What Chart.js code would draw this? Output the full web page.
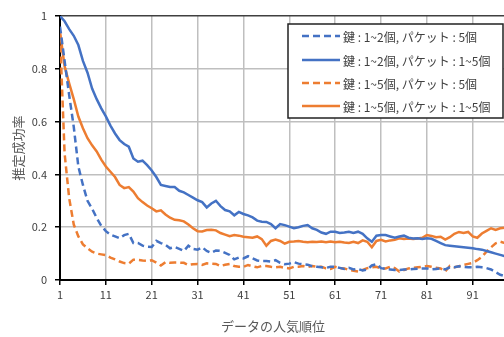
<!DOCTYPE html>
<html>
<head>
<meta charset="utf-8">
<script src="https://cdn.jsdelivr.net/npm/chart.js@4.4.1/dist/chart.umd.min.js"></script>
<style>
  html, body { margin: 0; padding: 0; background: #fff; overflow: hidden; }
  #wrap { position: relative; width: 520px; height: 337px; }
</style>
</head>
<body>
<div id="wrap"><canvas id="chart"></canvas></div>
<script>
// popularity rank of the data (x axis)
const ranks = [
  1, 2, 3, 4, 5, 6, 7, 8, 9, 10, 11, 12, 13, 14, 15, 16, 17, 18, 19, 20,
  21, 22, 23, 24, 25, 26, 27, 28, 29, 30, 31, 32, 33, 34, 35, 36, 37, 38, 39, 40,
  41, 42, 43, 44, 45, 46, 47, 48, 49, 50, 51, 52, 53, 54, 55, 56, 57, 58, 59, 60,
  61, 62, 63, 64, 65, 66, 67, 68, 69, 70, 71, 72, 73, 74, 75, 76, 77, 78, 79, 80,
  81, 82, 83, 84, 85, 86, 87, 88, 89, 90, 91, 92, 93, 94, 95, 96, 97, 98, 99, 100
];
const xTicks = [1, 11, 21, 31, 41, 51, 61, 71, 81, 91];

// key 1~2, packet 5
const key12Pkt5 = [
  0.96, 0.83, 0.70, 0.58, 0.43, 0.36, 0.30, 0.27, 0.235, 0.205,
  0.185, 0.172, 0.165, 0.158, 0.17, 0.175, 0.14, 0.14, 0.13, 0.126,
  0.125, 0.148, 0.14, 0.133, 0.12, 0.125, 0.118, 0.11, 0.13, 0.118,
  0.115, 0.124, 0.11, 0.103, 0.112, 0.11, 0.103, 0.095, 0.078, 0.085,
  0.082, 0.09, 0.082, 0.074, 0.072, 0.072, 0.07, 0.075, 0.065, 0.06,
  0.062, 0.068, 0.062, 0.06, 0.058, 0.052, 0.05, 0.048, 0.046, 0.05,
  0.05, 0.046, 0.042, 0.046, 0.04, 0.042, 0.036, 0.04, 0.055, 0.06,
  0.045, 0.042, 0.04, 0.038, 0.038, 0.04, 0.04, 0.042, 0.043, 0.044,
  0.044, 0.04, 0.042, 0.044, 0.04, 0.048, 0.048, 0.052, 0.05, 0.048,
  0.048, 0.05, 0.048, 0.045, 0.04, 0.03, 0.02, 0.015, 0.012, 0.01
];
// key 1~2, packet 1~5
const key12Pkt15 = [
  1.0, 0.98, 0.95, 0.925, 0.89, 0.83, 0.785, 0.725, 0.685, 0.65,
  0.62, 0.585, 0.555, 0.53, 0.515, 0.505, 0.46, 0.448, 0.452, 0.435,
  0.415, 0.39, 0.36, 0.356, 0.352, 0.352, 0.338, 0.332, 0.322, 0.312,
  0.302, 0.295, 0.275, 0.29, 0.3, 0.28, 0.265, 0.26, 0.245, 0.258,
  0.25, 0.245, 0.237, 0.225, 0.221, 0.22, 0.212, 0.196, 0.212, 0.208,
  0.202, 0.196, 0.2, 0.205, 0.208, 0.196, 0.19, 0.18, 0.175, 0.183,
  0.183, 0.178, 0.18, 0.183, 0.178, 0.183, 0.175, 0.158, 0.145, 0.168,
  0.17, 0.17, 0.165, 0.16, 0.165, 0.168, 0.16, 0.157, 0.158, 0.155,
  0.158, 0.156, 0.148, 0.14, 0.132, 0.13, 0.128, 0.126, 0.124, 0.122,
  0.12, 0.117, 0.115, 0.11, 0.105, 0.1, 0.095, 0.09, 0.092, 0.09
];
// key 1~5, packet 5
const key15Pkt5 = [
  0.93, 0.48, 0.31, 0.21, 0.165, 0.135, 0.12, 0.107, 0.1, 0.097,
  0.094, 0.085, 0.078, 0.07, 0.064, 0.062, 0.077, 0.076, 0.074, 0.073,
  0.075, 0.066, 0.055, 0.068, 0.065, 0.066, 0.066, 0.065, 0.057, 0.06,
  0.061, 0.057, 0.063, 0.062, 0.061, 0.053, 0.058, 0.061, 0.053, 0.05,
  0.05, 0.057, 0.052, 0.048, 0.053, 0.053, 0.05, 0.048, 0.05, 0.046,
  0.044, 0.05, 0.05, 0.053, 0.05, 0.053, 0.05, 0.05, 0.044, 0.042,
  0.05, 0.045, 0.044, 0.038, 0.035, 0.032, 0.038, 0.045, 0.048, 0.05,
  0.044, 0.044, 0.05, 0.045, 0.032, 0.038, 0.044, 0.046, 0.048, 0.05,
  0.053, 0.05, 0.046, 0.044, 0.032, 0.053, 0.048, 0.052, 0.057, 0.061,
  0.065, 0.075, 0.088, 0.107, 0.124, 0.139, 0.145, 0.14, 0.13, 0.12
];
// key 1~5, packet 1~5
const key15Pkt15 = [
  0.94, 0.81, 0.745, 0.685, 0.619, 0.575, 0.537, 0.51, 0.487, 0.456,
  0.43, 0.41, 0.39, 0.36, 0.348, 0.352, 0.335, 0.31, 0.295, 0.282,
  0.272, 0.26, 0.264, 0.248, 0.236, 0.228, 0.226, 0.222, 0.21, 0.196,
  0.185, 0.184, 0.189, 0.19, 0.188, 0.178, 0.172, 0.166, 0.17, 0.168,
  0.164, 0.162, 0.16, 0.165, 0.155, 0.13, 0.148, 0.153, 0.148, 0.138,
  0.145, 0.146, 0.148, 0.145, 0.143, 0.145, 0.144, 0.146, 0.143, 0.146,
  0.143, 0.145, 0.142, 0.14, 0.145, 0.14, 0.15, 0.145, 0.124, 0.148,
  0.152, 0.146, 0.15, 0.152, 0.158, 0.155, 0.157, 0.155, 0.157, 0.16,
  0.17, 0.167, 0.162, 0.164, 0.153, 0.162, 0.175, 0.182, 0.178, 0.182,
  0.165, 0.16, 0.176, 0.186, 0.196, 0.19, 0.196, 0.198, 0.198, 0.198
];

const seriesLabels = [
  '鍵 : 1~2個, パケット : 5個',
  '鍵 : 1~2個, パケット : 1~5個',
  '鍵 : 1~5個, パケット : 5個',
  '鍵 : 1~5個, パケット : 1~5個'
];
const xTitle = 'データの人気順位';
const yTitle = '推定成功率';

const BLUE = '#4472C4';
const ORANGE = '#ED7D31';
const FONT = '"Noto Sans CJK JP", "Noto Sans", sans-serif';

const toPoints = (values) => values.map((v, i) => ({ x: ranks[i], y: v }));

const makeSet = (label, values, color, dashed) => ({
  label,
  data: toPoints(values),
  borderColor: color,
  backgroundColor: color,
  borderWidth: 2.5,
  borderDash: dashed ? [7, 4] : [],
  pointRadius: 0,
  tension: 0,
  fill: false
});

// axis titles and boxed legend inside the plot
const decorations = {
  id: 'decorations',
  afterDraw(chart) {
    const { ctx, chartArea } = chart;
    ctx.save();
    ctx.fillStyle = '#595959';
    ctx.font = '13px ' + FONT;
    ctx.textAlign = 'center';
    ctx.textBaseline = 'middle';
    ctx.fillText(xTitle, 273, 326);
    ctx.save();
    ctx.translate(18, (chartArea.top + chartArea.bottom) / 2);
    ctx.rotate(-Math.PI / 2);
    ctx.fillText(yTitle, 0, 0);
    ctx.restore();

    // legend box
    const bx = 288, by = 24, bw = 215, bh = 94;
    ctx.fillStyle = '#fff';
    ctx.fillRect(bx, by, bw, bh);
    ctx.strokeStyle = '#222';
    ctx.lineWidth = 1.5;
    ctx.strokeRect(bx, by, bw, bh);

    const rows = [36, 60, 83, 106];
    ctx.font = '12px ' + FONT;
    ctx.textAlign = 'left';
    chart.data.datasets.forEach((ds, i) => {
      ctx.beginPath();
      ctx.setLineDash(ds.borderDash);
      ctx.strokeStyle = ds.borderColor;
      ctx.lineWidth = ds.borderWidth;
      ctx.moveTo(302, rows[i]);
      ctx.lineTo(340, rows[i]);
      ctx.stroke();
      ctx.setLineDash([]);
      ctx.fillStyle = '#404040';
      ctx.fillText(ds.label, 343, rows[i] + 1);
    });
    ctx.restore();
  }
};

new Chart(document.getElementById('chart'), {
  type: 'line',
  data: {
    datasets: [
      makeSet(seriesLabels[0], key12Pkt5, BLUE, true),
      makeSet(seriesLabels[1], key12Pkt15, BLUE, false),
      makeSet(seriesLabels[2], key15Pkt5, ORANGE, true),
      makeSet(seriesLabels[3], key15Pkt15, ORANGE, false)
    ]
  },
  options: {
    responsive: true,
    maintainAspectRatio: false,
    animation: false,
    layout: { padding: { top: 16, right: 6, bottom: 0, left: 0 } },
    plugins: {
      legend: { display: false },
      tooltip: { enabled: false }
    },
    scales: {
      x: {
        type: 'linear',
        min: 1,
        max: 100,
        afterBuildTicks: (scale) => { scale.ticks = xTicks.map((v) => ({ value: v })); },
        afterFit: (scale) => { scale.height = 57; },
        grid: { color: '#BFBFBF', lineWidth: 1.5, tickColor: '#000', tickLength: 5 },
        border: { color: '#000', width: 2 },
        ticks: { color: '#404040', font: { family: FONT, size: 11 }, padding: 3, maxRotation: 0 }
      },
      y: {
        min: 0,
        max: 1,
        afterFit: (scale) => { scale.width = 60; },
        grid: {
          color: (c) => (c.tick && c.tick.value === 1 ? '#404040' : '#BFBFBF'),
          lineWidth: 1.5,
          tickColor: '#000',
          tickLength: 5
        },
        border: { color: '#000', width: 2 },
        ticks: {
          stepSize: 0.2,
          color: '#404040',
          font: { family: FONT, size: 11 },
          padding: 8,
          callback: (v) => String(Math.round(v * 10) / 10)
        }
      }
    }
  },
  plugins: [decorations]
});
</script>
</body>
</html>
